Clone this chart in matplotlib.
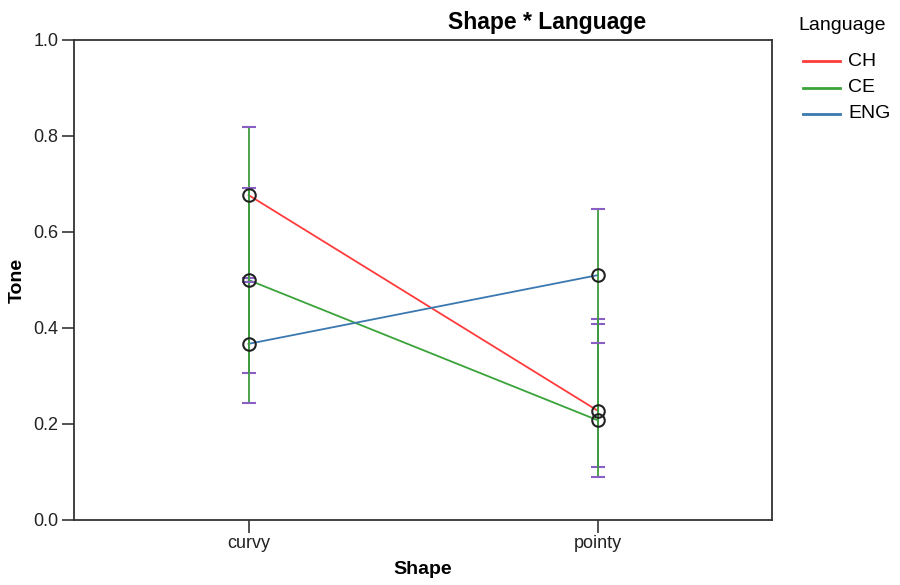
import numpy as np
import matplotlib
matplotlib.use("Agg")
import matplotlib.pyplot as plt
from matplotlib.lines import Line2D

plt.rcParams['font.family'] = ['Liberation Sans', 'DejaVu Sans']

# данные
shapes = ["curvy", "pointy"]
languages = ["CH", "CE", "ENG"]
tone_ch = [0.677, 0.228]
tone_ce = [0.500, 0.208]
tone_eng = [0.367, 0.510]
# границы планок погрешностей (нижняя, верхняя) для каждой формы
err_ch = [(0.505, 0.818), (0.111, 0.418)]
err_ce = [(0.306, 0.692), (0.089, 0.408)]
err_eng = [(0.244, 0.495), (0.369, 0.647)]

colors = {"CH": "#ff3b3b", "CE": "#3aa33a", "ENG": "#3a78b0"}
bar_color = "#3f9a3f"
cap_color = "#8a5fc4"

W, H = 900, 585
fig = plt.figure(figsize=(W / 100, H / 100), dpi=100)
ax = fig.add_axes([74 / W, 65 / H, 698 / W, 480 / H])

x = np.arange(len(shapes))
series = [("CH", tone_ch, err_ch), ("CE", tone_ce, err_ce), ("ENG", tone_eng, err_eng)]

# линии средних
for name, vals, _ in series:
    ax.plot(x, vals, color=colors[name], lw=1.3, zorder=2)

# планки погрешностей: зелёные вертикали, фиолетовые засечки
for name, vals, errs in series:
    for xi, (lo, hi) in zip(x, errs):
        ax.plot([xi, xi], [lo, hi], color=bar_color, lw=1.3, zorder=3)
        ax.plot([xi, xi], [lo, hi], ls='none', marker='_', ms=10, mew=1.5,
                color=cap_color, zorder=3)

# маркеры-кружки
for name, vals, _ in series:
    ax.plot(x, vals, ls='none', marker='o', ms=9, mfc='none', mec='#222222',
            mew=1.5, zorder=4)

ax.set_xlim(-0.5, 1.5)
ax.set_ylim(0, 1.0)
ax.set_xticks(x)
ax.set_xticklabels(shapes, fontsize=13, color='#222222')
yt = np.arange(0, 1.01, 0.2)
ax.set_yticks(yt)
ax.set_yticklabels([f"{v:.1f}" for v in yt], fontsize=13, color='#222222')
ax.tick_params(direction='out', length=9, width=1.2, color='#333333', pad=2)
for sp in ax.spines.values():
    sp.set_linewidth(1.3)
    sp.set_color('#333333')

ax.set_xlabel("Shape", fontsize=14, fontweight='bold', labelpad=6)
ax.set_ylabel("Tone", fontsize=14, fontweight='bold', labelpad=6)
fig.text(547 / W, 1 - 22 / H, "Shape * Language", ha='center', va='center',
         fontsize=16.5, fontweight='bold')

# легенда справа
fig.text(798 / W, 1 - 25 / H, "Language", ha='left', va='center', fontsize=14)
for i, name in enumerate(languages):
    yy = 1 - (61 + 26.5 * i) / H
    fig.add_artist(Line2D([803 / W, 840 / W], [yy, yy], color=colors[name],
                          lw=2, transform=fig.transFigure))
    fig.text(848 / W, yy, name, ha='left', va='center', fontsize=14)

fig.savefig("out.png", dpi=100)
